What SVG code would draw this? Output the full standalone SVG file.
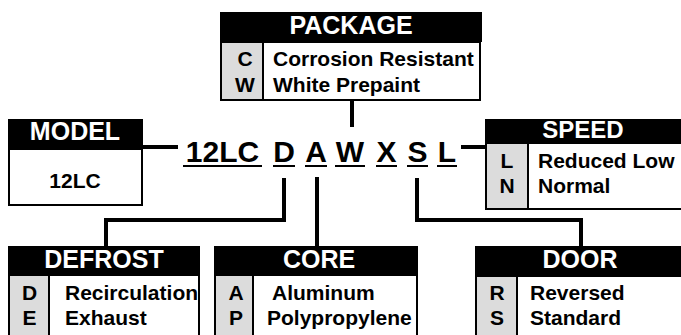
<svg xmlns="http://www.w3.org/2000/svg" width="681" height="335" viewBox="0 0 681 335">
<style>
text{font-family:"Liberation Sans",Arial,sans-serif;font-weight:bold;}
.hd{fill:#000;}
.title{fill:#fff;font-size:25px;text-anchor:middle;}
.body{fill:#fff;stroke:#000;stroke-width:2;}
.gray{fill:#dcdcdc;}
.sep{stroke:#000;stroke-width:2;}
.item{fill:#000;font-size:21px;}
.key{fill:#000;font-size:21px;text-anchor:middle;}
.code{fill:#000;font-size:30px;text-anchor:middle;}
.ul{stroke:#000;stroke-width:2;}
.conn{stroke:#000;stroke-width:4;fill:none;}
</style>
<rect width="681" height="335" fill="#fff"/>
<g id="connectors">
<line class="conn" x1="352" y1="100" x2="352" y2="127"/>
<line class="conn" x1="142" y1="147" x2="178" y2="147"/>
<line class="conn" x1="461" y1="147" x2="487" y2="147"/>
<polyline class="conn" points="284,178 284,220 106,220 106,247"/>
<line class="conn" x1="317" y1="177" x2="317" y2="247"/>
<polyline class="conn" points="417,178 417,220 581,220 581,247"/>
</g>
<g id="code">
<text class="code" x="222.5" y="162">12LC</text>
<text class="code" x="284" y="162">D</text>
<text class="code" x="316" y="162">A</text>
<text class="code" x="350" y="162">W</text>
<text class="code" x="386.5" y="162">X</text>
<text class="code" x="417.5" y="162">S</text>
<text class="code" x="447" y="162">L</text>
<line class="ul" x1="183" y1="166" x2="262" y2="166"/>
<line class="ul" x1="273" y1="166" x2="295" y2="166"/>
<line class="ul" x1="305" y1="166" x2="327" y2="166"/>
<line class="ul" x1="335" y1="166" x2="365" y2="166"/>
<line class="ul" x1="376" y1="166" x2="397" y2="166"/>
<line class="ul" x1="407" y1="166" x2="428" y2="166"/>
<line class="ul" x1="437" y1="166" x2="457" y2="166"/>
</g>
<g id="package">
<rect class="body" x="221" y="42" width="259" height="58"/>
<rect class="gray" x="222" y="43" width="41" height="56"/>
<line class="sep" x1="263" y1="42" x2="263" y2="100"/>
<rect class="hd" x="220" y="12" width="262" height="30"/>
<text class="title" x="351" y="34">PACKAGE</text>
<text class="key" x="245" y="66">C</text>
<text class="key" x="245" y="92">W</text>
<text class="item" x="273" y="66">Corrosion Resistant</text>
<text class="item" x="273" y="92">White Prepaint</text>
</g>
<g id="model">
<rect class="body" x="9" y="149" width="133" height="56"/>
<rect class="hd" x="8" y="119" width="135" height="30"/>
<text class="title" x="75" y="140">MODEL</text>
<text class="key" x="75" y="188">12LC</text>
</g>
<g id="speed">
<rect class="body" x="486" y="143" width="200" height="66"/>
<rect class="gray" x="487" y="144" width="41" height="64"/>
<line class="sep" x1="528" y1="143" x2="528" y2="209"/>
<rect class="hd" x="485" y="119" width="200" height="24"/>
<text class="title" x="583" y="138" style="font-size:24px">SPEED</text>
<text class="key" x="507" y="168">L</text>
<text class="key" x="507" y="193">N</text>
<text class="item" x="538" y="168">Reduced Low</text>
<text class="item" x="538" y="193">Normal</text>
</g>
<g id="defrost">
<rect class="body" x="9" y="275" width="190" height="70"/>
<rect class="gray" x="10" y="276" width="39" height="68"/>
<line class="sep" x1="49" y1="275" x2="49" y2="345"/>
<rect class="hd" x="8" y="246" width="192" height="29"/>
<text class="title" x="104" y="268">DEFROST</text>
<text class="key" x="29.5" y="300">D</text>
<text class="key" x="29.5" y="325">E</text>
<text class="item" x="65" y="300">Recirculation</text>
<text class="item" x="65" y="325">Exhaust</text>
</g>
<g id="core">
<rect class="body" x="215" y="275" width="202" height="70"/>
<rect class="gray" x="216" y="276" width="37" height="68"/>
<line class="sep" x1="253" y1="275" x2="253" y2="345"/>
<rect class="hd" x="214" y="246" width="204" height="29"/>
<text class="title" x="319" y="268">CORE</text>
<text class="key" x="236" y="300">A</text>
<text class="key" x="236" y="325">P</text>
<text class="item" x="272" y="300">Aluminum</text>
<text class="item" x="267" y="325">Polypropylene</text>
</g>
<g id="door">
<rect class="body" x="476" y="276" width="210" height="70"/>
<rect class="gray" x="477" y="277" width="40" height="68"/>
<line class="sep" x1="517" y1="276" x2="517" y2="346"/>
<rect class="hd" x="475" y="246" width="212" height="30"/>
<text class="title" x="580" y="268">DOOR</text>
<text class="key" x="497" y="300">R</text>
<text class="key" x="497" y="325">S</text>
<text class="item" x="530" y="300">Reversed</text>
<text class="item" x="530" y="325">Standard</text>
</g>
</svg>
